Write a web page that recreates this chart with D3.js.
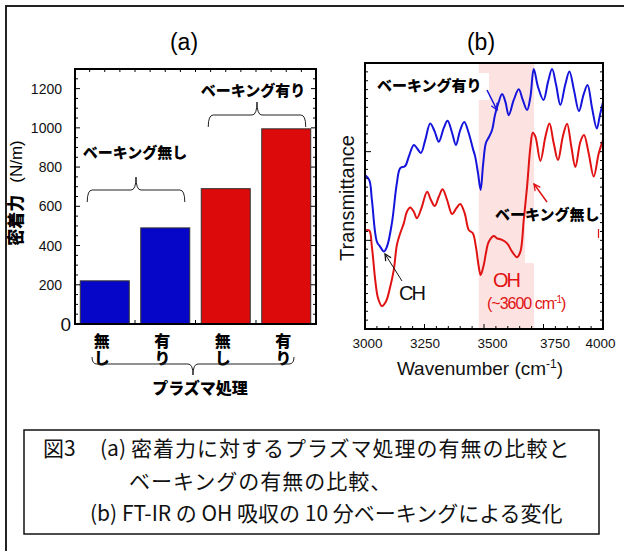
<!DOCTYPE html>
<html>
<head>
<meta charset="utf-8">
<script src="https://cdn.jsdelivr.net/npm/d3@7"></script>
<style>
  html, body { margin: 0; padding: 0; background: #fff; }
  svg { display: block; }
</style>
</head>
<body>
<svg id="fig" width="624" height="551"></svg>
<script>
// ---- (a) adhesion strength vs. plasma treatment / baking ----
const plasmaLabels = ["無し", "有り", "無し", "有り"];
const bakingLabels = ["ベーキング無し", "ベーキング有り"];
const adhesionValues = [220, 490, 690, 995];
const adhesionTicks = [0, 200, 400, 600, 800, 1000, 1200];

// ---- (b) FT-IR transmittance, OH band region ----
const waveTicks = [3000, 3250, 3500, 3750, 4000];
const bakedWave = [3000,3018,3029,3050,3064,3079,3092,3113,3134,3148,3169,3184,3205,3218,3235,3253,3274,3293,3310,3331,3347,3366,3382,3400,3417,3436,3453,3463,3475,3486,3496,3508,3521,3534,3546,3562,3576,3590,3604,3625,3646,3663,3681,3695,3709,3727,3750,3769,3786,3803,3821,3841,3859,3878,3899,3918,3935,3954,3974,3987,4000];
const bakedT = [57.9,56.0,48.5,32.8,30.9,29.1,30.9,39.8,54.9,60.5,61.3,64.8,69.2,68.0,66.2,71.0,77.3,74.2,70.4,75.6,78.3,73.7,69.2,74.8,77.8,73.6,67.9,64.8,58.5,52.3,61.6,69.9,72.2,74.8,80.4,85.4,88.3,85.4,80.4,86.1,90.1,86.1,82.3,87.3,97.7,91.0,86.1,92.9,97.7,91.7,84.2,91.7,96.8,89.8,81.9,88.0,91.7,83.1,75.4,80.4,85.3];
const unbakedWave = [3000,3018,3029,3043,3055,3071,3088,3106,3121,3134,3148,3163,3176,3190,3205,3218,3237,3261,3277,3293,3310,3326,3345,3366,3384,3400,3419,3436,3453,3466,3478,3486,3499,3508,3520,3541,3555,3576,3597,3618,3639,3653,3667,3681,3695,3705,3716,3737,3758,3775,3793,3811,3831,3849,3867,3884,3905,3920,3940,3961,3982,4000];
const unbakedT = [37.2,37.0,30.9,18.4,11.5,8.6,10.3,15.9,22.2,31.6,36.0,39.7,44.1,45.7,44.1,41.6,45.4,51.6,48.5,46.2,49.7,52.5,48.5,43.2,45.4,47.0,43.5,37.2,36.0,30.9,23.4,20.3,24.1,28.5,32.8,35.0,34.1,33.5,32.2,29.1,27.0,29.1,41.0,53.5,68.5,73.8,72.3,63.2,72.3,77.3,69.8,63.5,72.3,77.2,68.5,60.9,70.4,72.9,66.0,57.3,66.0,71.0];
const ohBand = [3478, 3710];

// caption, split into the pieces that are set apart on each line
const captionLines = [
  ["図3", "(a)", "密着力に対するプラズマ処理の有無の比較と"],
  ["ベーキングの有無の比較、"],
  ["(b) FT-IR の OH 吸収の 10 分ベーキングによる変化"]
];

const BLUE = "#0606c8", RED = "#dc0a0a";
const LINE_BLUE = "#1414dc", LINE_RED = "#e01212";
const SANS = "'Liberation Sans', Arial, sans-serif";
const JP = "'Noto Sans CJK JP', sans-serif";

const svg = d3.select("#fig");

// outer frame (runs off the right/bottom edge)
svg.append("rect").attr("x", 6).attr("y", 6).attr("width", 700).attr("height", 700)
  .attr("fill", "none").attr("stroke", "#222").attr("stroke-width", 2);

// curly brace: ends at yEnd, straight run at yMid, centre tip at yTip
function brace(x1, x2, yEnd, yMid, yTip) {
  const xm = (x1 + x2) / 2, r = 5;
  return `M${x1},${yEnd} Q${x1},${yMid} ${x1 + r},${yMid} L${xm - r},${yMid} Q${xm},${yMid} ${xm},${yTip}` +
         ` Q${xm},${yMid} ${xm + r},${yMid} L${x2 - r},${yMid} Q${x2},${yMid} ${x2},${yEnd}`;
}

// ================= panel (a) =================
const A = { left: 75, right: 316, top: 69, bottom: 324 };
const gA = svg.append("g");

const xA = d3.scaleBand().domain(d3.range(adhesionValues.length))
  .range([A.left, A.right]).paddingInner(0.19).paddingOuter(0.087);
const yA = d3.scaleLinear().domain([0, 1300]).range([A.bottom, A.top]);

gA.append("text").attr("x", 184).attr("y", 50).attr("text-anchor", "middle")
  .attr("font-family", SANS).attr("font-size", 23).text("(a)");

gA.selectAll("rect.bar").data(adhesionValues).join("rect").attr("class", "bar")
  .attr("x", (d, i) => xA(i)).attr("width", xA.bandwidth())
  .attr("y", d => yA(d)).attr("height", d => yA(0) - yA(d))
  .attr("fill", (d, i) => i < 2 ? BLUE : RED)
  .attr("stroke", "#333").attr("stroke-width", 1);

// inner ticks on left/right
const minorA = d3.range(0, 1301, 50);
[[A.left, 1], [A.right, -1]].forEach(([x, dir]) => {
  gA.selectAll(null).data(minorA).join("line")
    .attr("x1", x).attr("x2", d => x + dir * (d % 200 === 0 ? 5 : 3))
    .attr("y1", d => yA(d)).attr("y2", d => yA(d))
    .attr("stroke", "#000").attr("stroke-width", 1);
});
// top / bottom ticks between bars
const gapsA = d3.range(1, adhesionValues.length).map(i => xA(i) - xA.step() * xA.paddingInner() / 2);
const topTicksA = d3.range(-4, 14).map(k => gapsA[0] + k * xA.step() / 4).filter(x => x > A.left + 2 && x < A.right - 2);
gA.selectAll(null).data(topTicksA).join("line")
  .attr("x1", d => d).attr("x2", d => d).attr("y1", A.top).attr("y2", A.top + 3)
  .attr("stroke", "#000");
gA.selectAll(null).data(gapsA).join("line")
  .attr("x1", d => d).attr("x2", d => d).attr("y1", A.bottom).attr("y2", A.bottom - 4)
  .attr("stroke", "#000");

gA.append("rect").attr("x", A.left).attr("y", A.top)
  .attr("width", A.right - A.left).attr("height", A.bottom - A.top)
  .attr("fill", "none").attr("stroke", "#000").attr("stroke-width", 2);

// y axis labels
const axA = gA.append("g").attr("transform", `translate(${A.left},0)`)
  .call(d3.axisLeft(yA).tickValues(adhesionTicks).tickSize(0).tickPadding(13).tickFormat(d3.format("d")));
axA.select(".domain").remove();
axA.selectAll("text").attr("font-family", SANS).attr("font-size", 14).attr("fill", "#111")
  .filter(d => d === 0).attr("font-size", 19).attr("x", -4).attr("dy", "0.36em");

// y title
gA.append("text").attr("transform", "translate(22,193) rotate(-90)")
  .attr("text-anchor", "middle").attr("font-family", JP)
  .call(t => {
    t.append("tspan").attr("font-weight", 900).attr("font-size", 17).text("密着力");
    t.append("tspan").attr("font-family", SANS).attr("font-size", 17).attr("dx", 12).text("(N/m)");
  });

// category labels, set vertically
plasmaLabels.forEach((lab, i) => {
  const cx = xA(i) + xA.bandwidth() / 2 - 3;
  gA.append("text").attr("x", cx).attr("y", 333)
    .attr("writing-mode", "vertical-rl").attr("letter-spacing", 1)
    .attr("font-family", JP).attr("font-weight", 900).attr("font-size", 16)
    .text(lab);
});

// group braces and labels
const groupSpan = g => [xA(g * 2) + 7, xA(g * 2 + 1) + xA.bandwidth() - 5];
const braceYs = [[202, 190, 177], [127, 115, 102]];
[groupSpan(0), groupSpan(1)].forEach((s, g) => {
  gA.append("path").attr("d", brace(s[0], s[1], ...braceYs[g]))
    .attr("fill", "none").attr("stroke", "#222").attr("stroke-width", 1);
});
gA.append("text").attr("x", 135).attr("y", 158).attr("text-anchor", "middle")
  .attr("font-family", JP).attr("font-weight", 900).attr("font-size", 15).text(bakingLabels[0]);
gA.append("text").attr("x", 253).attr("y", 96).attr("text-anchor", "middle")
  .attr("font-family", JP).attr("font-weight", 900).attr("font-size", 15).text(bakingLabels[1]);

gA.append("path").attr("d", brace(92, 294, 357, 364, 375))
  .attr("fill", "none").attr("stroke", "#222").attr("stroke-width", 1);
gA.append("text").attr("x", 200).attr("y", 394).attr("text-anchor", "middle")
  .attr("font-family", JP).attr("font-weight", 900).attr("font-size", 16).text("プラズマ処理");

// ================= panel (b) =================
const B = { left: 365, right: 603, top: 63, bottom: 329 };
const gB = svg.append("g");
const xB = d3.scaleLinear().domain([3000, 4000]).range([B.left, B.right]);
const yB = d3.scaleLinear().domain([0, 100]).range([B.bottom, B.top]);

gB.append("text").attr("x", 481).attr("y", 50).attr("text-anchor", "middle")
  .attr("font-family", SANS).attr("font-size", 23).text("(b)");

// OH band shading
gB.append("rect").attr("x", xB(ohBand[0])).attr("y", B.top)
  .attr("width", xB(ohBand[1]) - xB(ohBand[0])).attr("height", B.bottom - B.top)
  .attr("fill", "#fde2e2");
// label backgrounds cutting into the band
gB.append("rect").attr("x", 372).attr("y", 73).attr("width", 117).attr("height", 27).attr("fill", "#fff");
gB.append("rect").attr("x", 525).attr("y", 217).attr("width", 12).attr("height", 46).attr("fill", "#fff");

const line = (w, t) => d3.line().x((d, i) => xB(w[i])).y(d => yB(d)).curve(d3.curveCatmullRom.alpha(0.5))(t);
gB.append("path").attr("d", line(unbakedWave, unbakedT)).attr("fill", "none")
  .attr("stroke", LINE_RED).attr("stroke-width", 2);
gB.append("path").attr("d", line(bakedWave, bakedT)).attr("fill", "none")
  .attr("stroke", LINE_BLUE).attr("stroke-width", 2);

// ticks
const minorX = d3.range(3000, 4001, 50);
gB.selectAll(null).data(minorX).join("line")
  .attr("x1", d => xB(d)).attr("x2", d => xB(d))
  .attr("y1", B.bottom).attr("y2", d => B.bottom - (d % 250 === 0 ? 5 : 3)).attr("stroke", "#000");
const minorY = d3.range(0, 31).map(k => k * 100 / 30);
[[B.left, 1], [B.right, -1]].forEach(([x, dir]) => {
  gB.selectAll(null).data(minorY).join("line")
    .attr("x1", x).attr("x2", (d, i) => x + dir * (i % 10 === 0 && dir > 0 ? 6 : 3))
    .attr("y1", d => yB(d)).attr("y2", d => yB(d)).attr("stroke", "#000");
});

gB.append("rect").attr("x", B.left).attr("y", B.top)
  .attr("width", B.right - B.left).attr("height", B.bottom - B.top)
  .attr("fill", "none").attr("stroke", "#000").attr("stroke-width", 2);

// x tick labels (hand-nudged as in the printed figure)
const labelNudge = [2, 0, 8, 11, -3];
const axB = gB.append("g").attr("transform", `translate(0,${B.bottom})`)
  .call(d3.axisBottom(xB).tickValues(waveTicks).tickSize(0).tickPadding(9).tickFormat(d3.format("d")));
axB.select(".domain").remove();
axB.selectAll("text").attr("font-family", SANS).attr("font-size", 13.5).attr("fill", "#111")
  .attr("dx", (d, i) => labelNudge[i]);

// axis titles
gB.append("text").attr("x", 480).attr("y", 375).attr("text-anchor", "middle")
  .attr("font-family", SANS).attr("font-size", 19).attr("fill", "#111")
  .call(t => {
    t.append("tspan").text("Wavenumber (cm");
    t.append("tspan").attr("font-size", 12).attr("dy", -7).text("-1");
    t.append("tspan").attr("dy", 7).text(")");
  });
gB.append("text").attr("transform", "translate(354,198) rotate(-90)").attr("text-anchor", "middle")
  .attr("font-family", SANS).attr("font-size", 20).attr("fill", "#111").text("Transmittance");

// arrow heads
const defs = svg.append("defs");
[["ahBlack", "#111"], ["ahBlue", LINE_BLUE], ["ahRed", LINE_RED]].forEach(([id, c]) => {
  defs.append("marker").attr("id", id).attr("viewBox", "0 0 10 10").attr("refX", 9).attr("refY", 5)
    .attr("markerWidth", 8).attr("markerHeight", 8).attr("orient", "auto")
    .attr("markerUnits", "userSpaceOnUse")
    .append("path").attr("d", "M1,1 L9,5 L1,9").attr("fill", "none").attr("stroke", c).attr("stroke-width", 1.6);
});

// annotations
gB.append("text").attr("x", 377).attr("y", 91).attr("font-family", JP).attr("font-weight", 900)
  .attr("font-size", 15).text(bakingLabels[1]);
gB.append("line").attr("x1", 487).attr("y1", 90).attr("x2", 497).attr("y2", 110)
  .attr("stroke", LINE_BLUE).attr("stroke-width", 1.5).attr("marker-end", "url(#ahBlue)");

gB.append("text").attr("x", 495).attr("y", 220).attr("font-family", JP).attr("font-weight", 900)
  .attr("font-size", 15).text(bakingLabels[0]);
gB.append("line").attr("x1", 547).attr("y1", 202).attr("x2", 534).attr("y2", 184)
  .attr("stroke", LINE_RED).attr("stroke-width", 1.5).attr("marker-end", "url(#ahRed)");
gB.append("line").attr("x1", 598.5).attr("y1", 229).attr("x2", 598.5).attr("y2", 238)
  .attr("stroke", LINE_RED).attr("stroke-width", 1.2);

gB.append("text").attr("x", 399).attr("y", 300).attr("font-family", SANS).attr("font-size", 20)
  .attr("letter-spacing", -2).attr("fill", "#111").text("CH");
gB.append("line").attr("x1", 402).attr("y1", 281).attr("x2", 385).attr("y2", 254)
  .attr("stroke", "#111").attr("stroke-width", 1).attr("marker-end", "url(#ahBlack)");

gB.append("text").attr("x", 493).attr("y", 287).attr("font-family", SANS).attr("font-size", 20)
  .attr("letter-spacing", -2).attr("fill", LINE_RED).text("OH");
gB.append("text").attr("x", 487).attr("y", 309).attr("font-family", SANS).attr("font-size", 16)
  .attr("letter-spacing", -1).attr("fill", LINE_RED)
  .call(t => {
    t.append("tspan").text("(~3600 cm");
    t.append("tspan").attr("font-size", 10).attr("dy", -6).text("-1");
    t.append("tspan").attr("dy", 6).text(")");
  });

// ================= caption =================
svg.append("rect").attr("x", 24).attr("y", 430).attr("width", 575).attr("height", 104)
  .attr("fill", "#fff").attr("stroke", "#111").attr("stroke-width", 1.5);
const capX = [[43, 100, 131], [129], [90]], capY = [456, 489, 521];
captionLines.forEach((parts, i) => {
  svg.append("text").attr("y", capY[i]).attr("font-family", JP)
    .attr("font-size", 21).attr("fill", "#111")
    .selectAll("tspan").data(parts).join("tspan")
    .attr("x", (d, j) => capX[i][j])
    .attr("letter-spacing", (d, j) => (i === 0 && j === 2) || i === 1 ? 1 : 0)
    .text(d => d);
});
</script>
</body>
</html>
